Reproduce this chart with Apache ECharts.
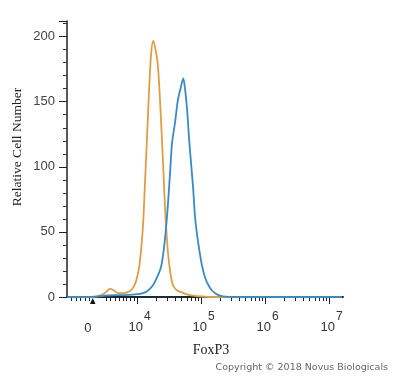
<!DOCTYPE html>
<html>
<head>
<meta charset="utf-8">
<script src="https://cdn.jsdelivr.net/npm/echarts@6/dist/echarts.min.js"></script>
<style>
  html, body { margin: 0; padding: 0; background: #fff; }
  #chart { width: 400px; height: 378px; }
</style>
</head>
<body>
<div id="chart"></div>
<script>
// x positions are on the display scale, in decades (10^4 -> 4, 10^5 -> 5 ...)
const zeroPos = 3.234;
const decades = [4, 5, 6, 7];

// isotype control (orange)
const isoX = [2.906, 3.266, 3.375, 3.469, 3.531, 3.578, 3.641, 3.703, 3.797, 3.891, 3.938, 3.984,
  4.031, 4.063, 4.094, 4.125, 4.156, 4.188, 4.219, 4.255, 4.281, 4.320, 4.352, 4.383, 4.414,
  4.445, 4.484, 4.523, 4.563, 4.625, 4.703, 4.781, 4.875, 5.0, 5.219, 7.203];
const isoY = [0, 0, 0.5, 2, 4.5, 6.5, 5, 3, 3, 4.5, 7, 12,
  22, 36, 55, 88, 122, 158, 186, 197, 192, 181, 158, 128, 95,
  62, 34, 18, 9, 5, 3.5, 2, 1, 0.4, 0, 0];

// FoxP3 stain (blue)
const foxX = [2.906, 3.344, 3.5, 3.656, 3.813, 3.969, 4.094, 4.172, 4.25, 4.313, 4.375, 4.422,
  4.469, 4.516, 4.547, 4.594, 4.641, 4.680, 4.723, 4.750, 4.781, 4.813, 4.844, 4.875, 4.906,
  4.938, 4.977, 5.016, 5.063, 5.117, 5.172, 5.250, 5.344, 5.531, 7.203];
const foxY = [0, 0.3, 1, 1.5, 1.5, 2, 3, 5, 9, 15, 23, 38,
  62, 95, 118, 134, 152, 160, 168, 160, 145, 122, 103, 85, 62,
  48, 35, 24, 15, 9, 5, 2, 0.5, 0, 0];

// minor ticks on the x axis
const linTicks = [2.980, 3.047, 3.120, 3.188, 3.255];
const lowDecadeTicks = [3.527, 3.589, 3.656, 3.723, 3.786, 3.839, 3.902, 3.953];
const logTicks = [];
[4, 5, 6].forEach(d => {
  for (let k = 2; k <= 9; k++) logTicks.push(+(d + Math.log10(k)).toFixed(3));
});
const minorX = linTicks.concat(lowDecadeTicks, logTicks);

const xMin = 2.906;
const xMax = 7.219;

const chart = echarts.init(document.getElementById('chart'));

chart.setOption({
  animation: false,
  grid: { left: 67, right: 57, top: 21, bottom: 81 },
  xAxis: [
    {
      type: 'value',
      min: xMin,
      max: xMax,
      axisLine: { show: true, lineStyle: { color: '#1a2a3a', width: 2 } },
      axisTick: { show: true, length: 4, customValues: minorX, lineStyle: { color: '#222', width: 1 } },
      axisLabel: { show: false },
      splitLine: { show: false }
    },
    {
      type: 'value',
      min: xMin,
      max: xMax,
      position: 'bottom',
      axisLine: { show: false },
      axisTick: { show: true, length: 7, customValues: decades, lineStyle: { color: '#222', width: 1 } },
      axisLabel: {
        show: true,
        margin: 14,
        customValues: [zeroPos].concat(decades),
        formatter: function (v) {
          if (Math.abs(v - zeroPos) < 0.01) return '{z|0}';
          return '{n|10}{s|' + Math.round(v) + '}';
        },
        rich: {
          n: { fontSize: 13, fontFamily: 'Liberation Sans', color: '#333', verticalAlign: 'bottom', padding: [0, 0, 0, 5] },
          z: { fontSize: 13, fontFamily: 'Liberation Sans', color: '#333', verticalAlign: 'bottom', padding: [11, 0, 0, 0] },
          s: { fontSize: 12, fontFamily: 'Liberation Sans', color: '#333', verticalAlign: 'bottom', padding: [0, 0, 11, 1] }
        }
      },
      splitLine: { show: false }
    }
  ],
  yAxis: {
    type: 'value',
    min: 0,
    max: 212,
    interval: 50,
    axisLine: { show: true, lineStyle: { color: '#222', width: 1.5 } },
    axisTick: { show: true, length: 8, lineStyle: { color: '#222' } },
    minorTick: { show: true, splitNumber: 5, length: 4, lineStyle: { color: '#333' } },
    axisLabel: {
      margin: 12,
      showMaxLabel: false,
      fontSize: 13,
      fontFamily: 'Liberation Sans',
      color: '#444'
    },
    splitLine: { show: false }
  },
  series: [
    {
      name: 'Isotype',
      type: 'line',
      xAxisIndex: 0,
      data: isoX.map((x, i) => [x, isoY[i]]),
      smooth: 0.3,
      symbol: 'none',
      lineStyle: { color: '#dc9f45', width: 1.8 },
      z: 3
    },
    {
      name: 'FoxP3',
      type: 'line',
      xAxisIndex: 0,
      data: foxX.map((x, i) => [x, foxY[i]]),
      smooth: 0.3,
      symbol: 'none',
      lineStyle: { color: '#3a8ac6', width: 1.8 },
      z: 4
    }
  ],
  graphic: [
    {
      type: 'text',
      x: 17,
      y: 147,
      rotation: Math.PI / 2,
      style: {
        text: 'Relative Cell Number',
        font: '13.5px "Liberation Serif"',
        fill: '#222',
        align: 'center',
        verticalAlign: 'middle'
      }
    },
    {
      type: 'text',
      x: 211,
      y: 350,
      style: {
        text: 'FoxP3',
        font: '14px "Liberation Serif"',
        fill: '#222',
        align: 'center',
        verticalAlign: 'middle'
      }
    },
    {
      type: 'text',
      x: 388,
      y: 368,
      style: {
        text: 'Copyright \u00a9 2018 Novus Biologicals',
        font: '9.5px "DejaVu Sans"',
        fill: '#666',
        align: 'right',
        verticalAlign: 'middle'
      }
    },
    {
      // small gate marker under the axis near zero
      type: 'polygon',
      shape: { points: [[90, 304], [95.5, 304], [92.7, 298]] },
      style: { fill: '#111' }
    }
  ]
});
</script>
</body>
</html>
